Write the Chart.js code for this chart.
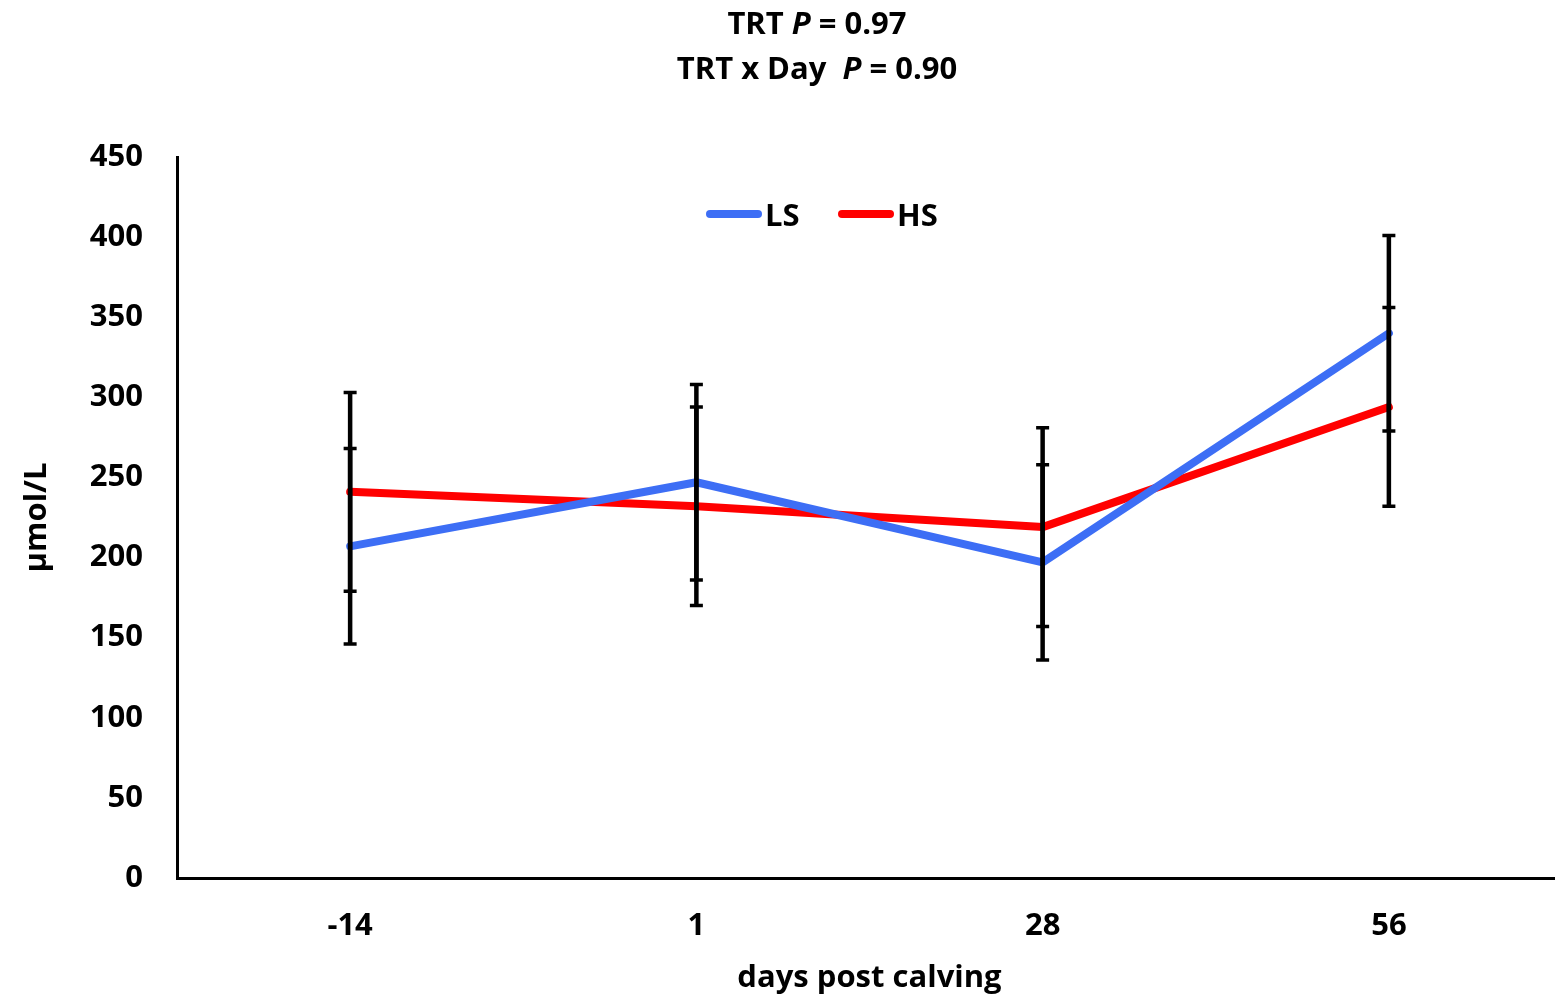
<!DOCTYPE html>
<html>
<head>
<meta charset="utf-8">
<title>μmol/L by days post calving</title>
<script src="https://cdn.jsdelivr.net/npm/chart.js@4"></script>
<style>
  html, body { margin: 0; padding: 0; background: #fff; overflow: hidden; }
  body { width: 1555px; height: 997px; position: relative; font-family: "Open Sans", Lato, sans-serif; }
  #wrap { position: absolute; left: 0; top: 0; width: 1562px; height: 997px; }
  .title {
    position: absolute; left: 817px; top: 0; transform: translateX(-50%);
    text-align: center; white-space: nowrap; font-weight: bold; font-size: 31px;
    line-height: 45px; color: #000;
  }
  .legend { position: absolute; top: 197px; height: 34px; display: flex; align-items: center;
    font-weight: bold; font-size: 31px; color: #000; }
  .legend .swatch { display: inline-block; width: 56px; height: 8px; border-radius: 4px; margin-right: 3px; }
</style>
</head>
<body>
<div id="wrap"><canvas id="chart"></canvas></div>
<div class="title">TRT <i>P</i> = 0.97<br>TRT x Day&nbsp;&nbsp;<i>P</i> = 0.90</div>
<div id="legend"></div>
<script>
// Sampling days and group means (μmol/L) with their standard errors
const days = ['-14', '1', '28', '56'];
const lsMean = [207, 247, 197, 340];
const lsErr = [61, 61, 61, 61];
const hsMean = [241, 232, 219, 294];
const hsErr = [62, 62, 62, 62];
const yTicks = [0, 50, 100, 150, 200, 250, 300, 350, 400, 450];

const LS_COLOR = '#3D6EF5';
const HS_COLOR = '#FF0000';
const FONT = '"Open Sans", Lato, sans-serif';
const FONT_SIZE = 31;

// Legend placed inside the plot, above the lines
const legendEl = document.getElementById('legend');
[['LS', LS_COLOR, 706], ['HS', HS_COLOR, 838]].forEach(([name, color, x]) => {
  const item = document.createElement('div');
  item.className = 'legend';
  item.style.left = x + 'px';
  item.innerHTML = '<span class="swatch" style="background:' + color + '"></span>' + name;
  legendEl.appendChild(item);
});

// Vertical error bars with caps, drawn over the lines
const errorBars = {
  id: 'errorBars',
  afterDatasetsDraw(chart) {
    const ctx = chart.ctx;
    const x = chart.scales.x, y = chart.scales.y;
    const sets = [[lsMean, lsErr], [hsMean, hsErr]];
    ctx.save();
    ctx.strokeStyle = '#000';
    sets.forEach(([means, errs]) => {
      means.forEach((m, i) => {
        const px = x.getPixelForValue(i);
        const top = y.getPixelForValue(m + errs[i]);
        const bot = y.getPixelForValue(m - errs[i]);
        ctx.lineWidth = 4.5;
        ctx.beginPath();
        ctx.moveTo(px, top);
        ctx.lineTo(px, bot);
        ctx.stroke();
        ctx.lineWidth = 3.5;
        ctx.beginPath();
        ctx.moveTo(px - 6.5, top); ctx.lineTo(px + 6.5, top);
        ctx.moveTo(px - 6.5, bot); ctx.lineTo(px + 6.5, bot);
        ctx.stroke();
      });
    });
    ctx.restore();
  }
};

new Chart(document.getElementById('chart'), {
  type: 'line',
  data: {
    labels: days,
    datasets: [
      { label: 'LS', data: lsMean, borderColor: LS_COLOR, backgroundColor: LS_COLOR,
        borderWidth: 8, pointRadius: 0, tension: 0, borderCapStyle: 'round', borderJoinStyle: 'round' },
      { label: 'HS', data: hsMean, borderColor: HS_COLOR, backgroundColor: HS_COLOR,
        borderWidth: 8, pointRadius: 0, tension: 0, borderCapStyle: 'round', borderJoinStyle: 'round' }
    ]
  },
  options: {
    responsive: true,
    maintainAspectRatio: false,
    animation: false,
    layout: { padding: { top: 157, left: 0, right: 0, bottom: 0 } },
    plugins: { legend: { display: false }, tooltip: { enabled: false } },
    scales: {
      x: {
        offset: true,
        grid: { display: false, drawTicks: false },
        border: { display: true, color: '#000', width: 3 },
        ticks: { color: '#000', padding: 30, font: { family: FONT, size: FONT_SIZE, weight: 'bold' } },
        title: { display: true, text: 'days post calving', color: '#000', padding: { top: 0, bottom: 0 },
          font: { family: FONT, size: FONT_SIZE, weight: 'bold' } },
        afterFit(scale) { scale.height = 119; }
      },
      y: {
        min: 0, max: 450,
        afterBuildTicks(scale) { scale.ticks = yTicks.map(v => ({ value: v })); },
        grid: { display: false, drawTicks: false },
        border: { display: true, color: '#000', width: 3 },
        ticks: { color: '#000', padding: 34, font: { family: FONT, size: FONT_SIZE, weight: 'bold' } },
        title: { display: true, text: 'μmol/L', color: '#000', padding: { top: 19, bottom: 0 },
          font: { family: FONT, size: FONT_SIZE, weight: 'bold' } },
        afterFit(scale) { scale.width = 177; }
      }
    }
  },
  plugins: [errorBars]
});
</script>
</body>
</html>
